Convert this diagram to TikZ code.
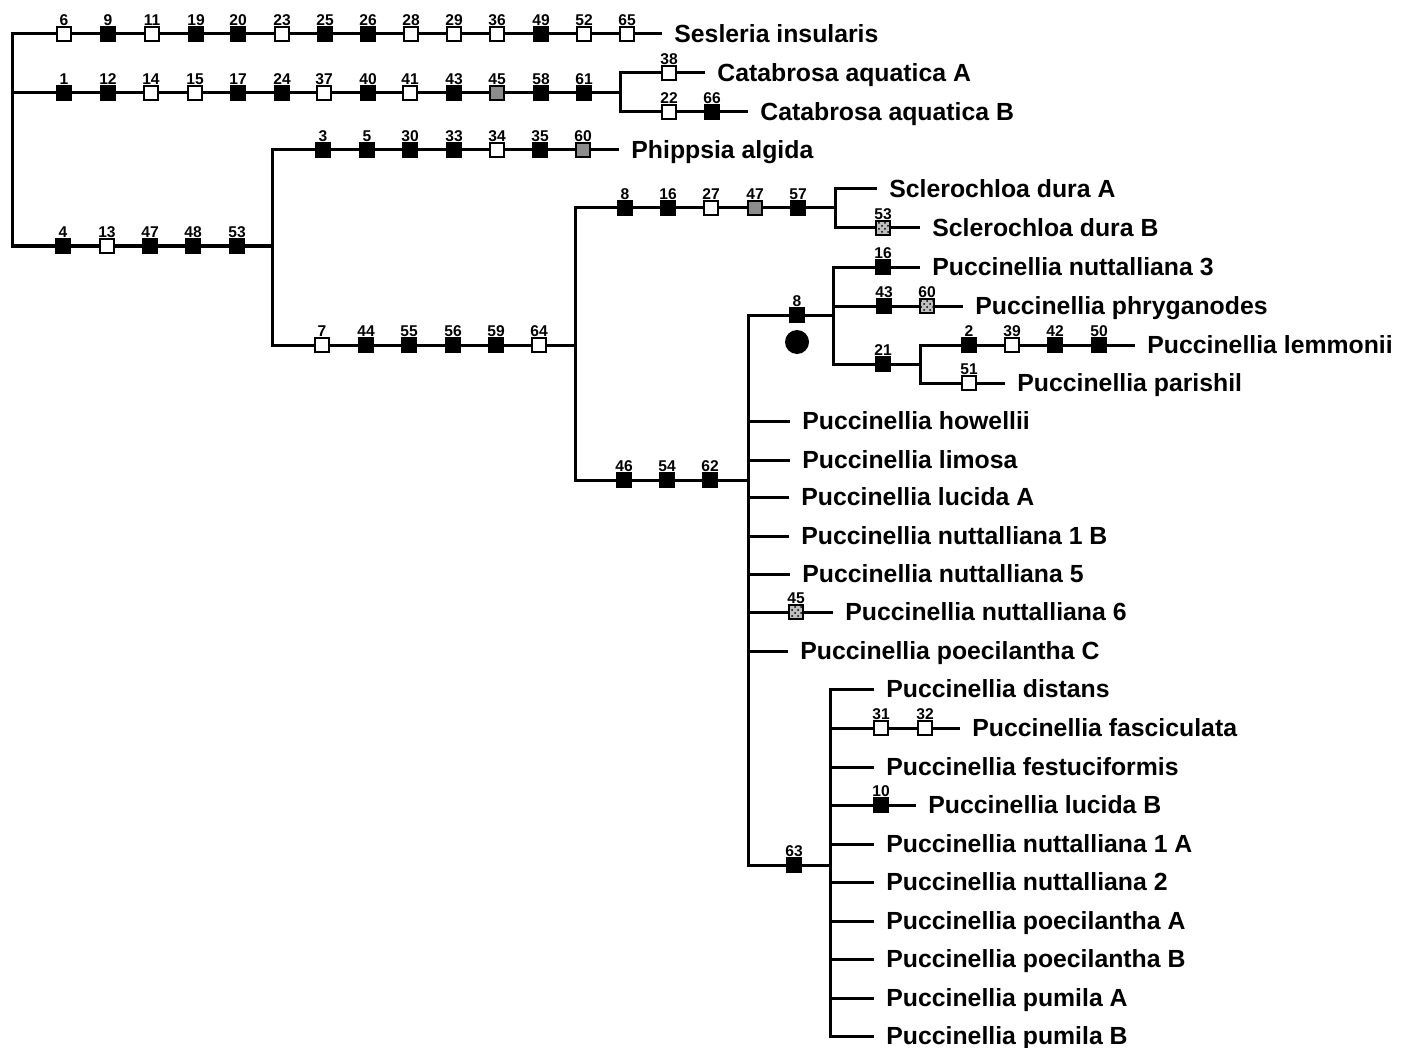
\documentclass[tikz,border=0pt]{standalone}
\usepackage{fontspec}
\setmainfont{Liberation Sans}
\usetikzlibrary{patterns}
\begin{document}
\begin{tikzpicture}[x=0.5pt, y=-0.5pt, line join=miter,
	branch/.style={line width=1.5pt},
	chr/.style={draw, line width=0.7pt, minimum size=7pt, inner sep=0pt, label distance=0.6pt},
	apo/.style={chr, fill=black},
	rev/.style={chr, fill=white},
	amb/.style={chr, fill=black!45},
	chk/.style={chr, preaction={fill=black!25}, pattern=crosshatch dots},
	num/.style={font=\bfseries\fontsize{7.8}{8}\selectfont, inner sep=0.4pt, text height=5.6pt, text depth=0pt},
	taxon/.style={anchor=west, inner xsep=6pt, inner ysep=0pt, text height=8.9pt, text depth=0pt, font=\bfseries\fontsize{12.4}{14}\selectfont}]
	\useasboundingbox (0,0) rectangle (1412,1048);
	% 1. Internal nodes
	\coordinate (root) at (12,140);
	\coordinate (cat) at (620,93);
	\coordinate (core) at (272,246);
	\coordinate (grp) at (575,345);
	\coordinate (scl) at (835,208);
	\coordinate (puc) at (748,480);
	\coordinate (syn) at (833,315);
	\coordinate (lem) at (920,364);
	\coordinate (dis) at (830,865);
	% 2. Taxa
	\foreach \p/\x/\y/\l in {ses/662/34/Sesleria insularis, cata/705/73/Catabrosa aquatica A,
		catb/748/112/Catabrosa aquatica B, phip/619/150/Phippsia algida,
		scla/877/189/Sclerochloa dura A, sclb/920/228/Sclerochloa dura B,
		pn3/920/267/Puccinellia nuttalliana 3, phry/963/306/Puccinellia phryganodes,
		lemm/1135/345/Puccinellia lemmonii, pari/1005/383/Puccinellia parishil,
		howe/790/421/Puccinellia howellii, limo/790/460/Puccinellia limosa,
		lucA/789/497/Puccinellia lucida A, nut1B/789/536/Puccinellia nuttalliana 1 B,
		nut5/790/574/Puccinellia nuttalliana 5, nut6/833/612/Puccinellia nuttalliana 6,
		poeC/788/651/Puccinellia poecilantha C, dist/874/689/Puccinellia distans,
		fasc/960/728/Puccinellia fasciculata, fest/874/767/Puccinellia festuciformis,
		lucB/916/805/Puccinellia lucida B, nut1A/874/844/Puccinellia nuttalliana 1 A,
		nut2/874/882/Puccinellia nuttalliana 2, poeA/874/921/Puccinellia poecilantha A,
		poeB/874/959/Puccinellia poecilantha B, pumA/874/998/Puccinellia pumila A,
		pumB/874/1036/Puccinellia pumila B} {
		\node[taxon] (\p) at (\x,\y) {\l};
	}
	% 3. Branches
	\draw[branch] (ses.west) -| (root) |- (core);
	\draw[branch] (root) |- (cat);
	\draw[branch] (cata.west) -| (cat) |- (catb.west);
	\draw[branch] (phip.west) -| (core) |- (grp);
	\draw[branch] (scl) -| (grp) |- (puc);
	\draw[branch] (scla.west) -| (scl) |- (sclb.west);
	\draw[branch] (syn) -| (puc) |- (dis);
	\draw[branch] (pn3.west) -| (syn) |- (lem);
	\draw[branch] (syn |- phry.west) -- (phry.west);
	\draw[branch] (lemm.west) -| (lem) |- (pari.west);
	\foreach \p in {howe,limo,lucA,nut1B,nut5,nut6,poeC}
		\draw[branch] (puc |- \p.west) -- (\p.west);
	\draw[branch] (dist.west) -| (dis) |- (pumB.west);
	\foreach \p in {fasc,fest,lucB,nut1A,nut2,poeA,poeB,pumA}
		\draw[branch] (dis |- \p.west) -- (\p.west);
	% 4. Character changes
	\foreach \r/\y/\cs in {
		ses/34/{64/6/rev,108/9/apo,152/11/rev,196/19/apo,238/20/apo,282/23/rev,325/25/apo,368/26/apo,411/28/rev,454/29/rev,497/36/rev,541/49/apo,584/52/rev,627/65/rev},
		cat/93/{64/1/apo,108/12/apo,151/14/rev,195/15/rev,238/17/apo,282/24/apo,324/37/rev,368/40/apo,410/41/rev,454/43/apo,497/45/amb,541/58/apo,584/61/apo},
		cata/73/{669/38/rev},
		catb/112/{669/22/rev,712/66/apo},
		core/246/{63/4/apo,107/13/rev,150/47/apo,193/48/apo,237/53/apo},
		phip/150/{323/3/apo,367/5/apo,410/30/apo,454/33/apo,497/34/rev,540/35/apo,583/60/amb},
		grp/345/{322/7/rev,366/44/apo,409/55/apo,453/56/apo,496/59/apo,539/64/rev},
		scl/208/{625/8/apo,668/16/apo,711/27/rev,755/47/amb,798/57/apo},
		sclb/228/{883/53/chk},
		puc/480/{624/46/apo,667/54/apo,710/62/apo},
		syn/315/{797/8/apo},
		pn3/267/{883/16/apo},
		phry/306/{884/43/apo,927/60/chk},
		lem/364/{883/21/apo},
		lemm/345/{969/2/apo,1012/39/rev,1055/42/apo,1099/50/apo},
		pari/383/{969/51/rev},
		nut6/612/{796/45/chk},
		dis/865/{794/63/apo},
		fasc/728/{881/31/rev,925/32/rev},
		lucB/805/{881/10/apo}} {
		\foreach \x/\n/\s in \cs
			\node[\s, label={[num]above:\n}] (\r\n) at (\x,\y) {};
	}
	\node[circle, fill, minimum size=12pt, inner sep=0pt] (synmark) at (797,342) {};
\end{tikzpicture}
\end{document}
